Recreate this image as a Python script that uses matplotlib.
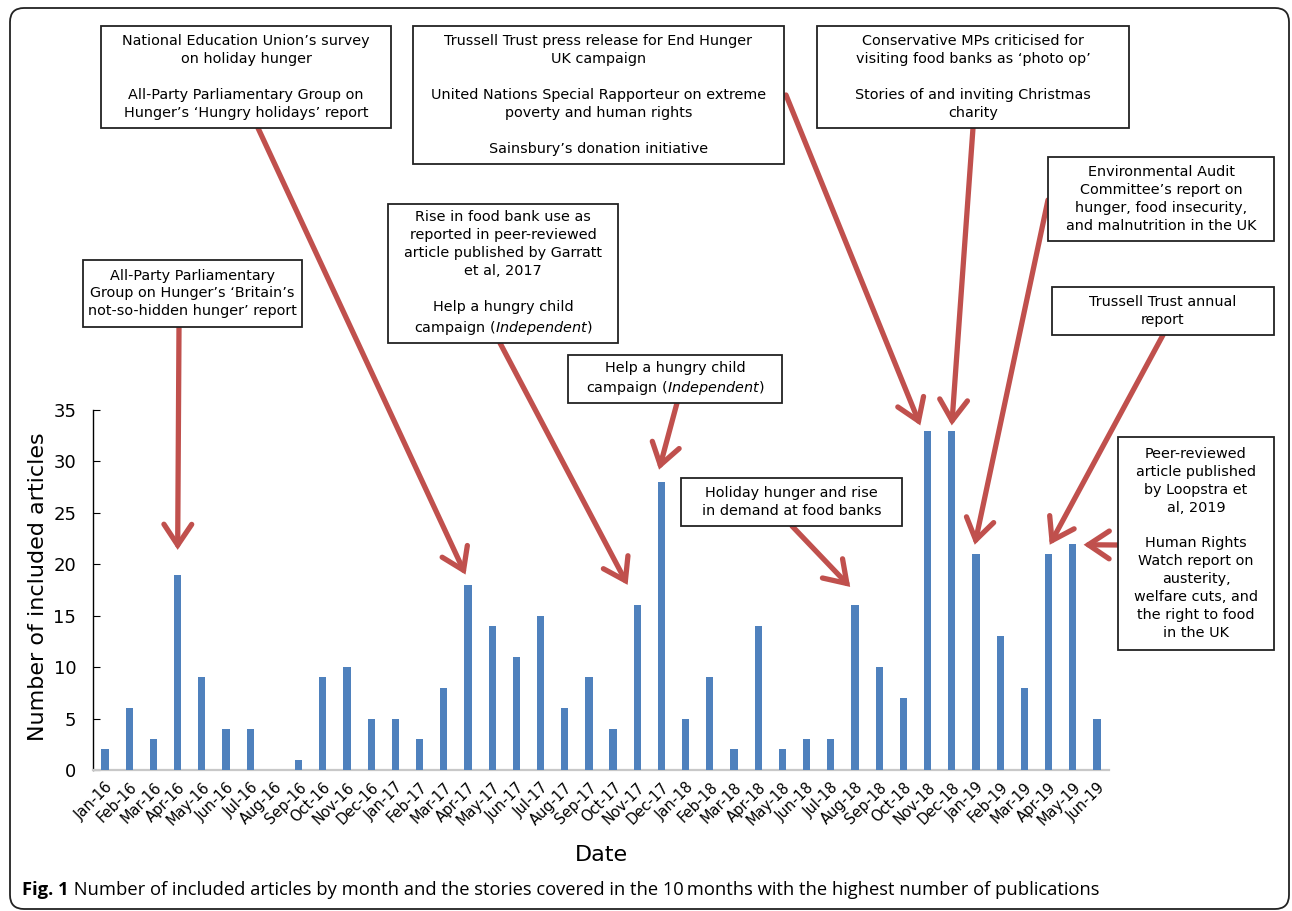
import matplotlib
matplotlib.use("Agg")
import matplotlib.pyplot as plt
from matplotlib.patches import Rectangle, FancyBboxPatch

months = ["Jan-16", "Feb-16", "Mar-16", "Apr-16", "May-16", "Jun-16", "Jul-16",
          "Aug-16", "Sep-16", "Oct-16", "Nov-16", "Dec-16",
          "Jan-17", "Feb-17", "Mar-17", "Apr-17", "May-17", "Jun-17", "Jul-17",
          "Aug-17", "Sep-17", "Oct-17", "Nov-17", "Dec-17",
          "Jan-18", "Feb-18", "Mar-18", "Apr-18", "May-18", "Jun-18", "Jul-18",
          "Aug-18", "Sep-18", "Oct-18", "Nov-18", "Dec-18",
          "Jan-19", "Feb-19", "Mar-19", "Apr-19", "May-19", "Jun-19"]
counts = [2, 6, 3, 19, 9, 4, 4, 0, 1, 9, 10, 5,
          5, 3, 8, 18, 14, 11, 15, 6, 9, 4, 16, 28,
          5, 9, 2, 14, 2, 3, 3, 16, 10, 7, 33, 33,
          21, 13, 8, 21, 22, 5]

# story boxes: text, month the arrow points at
stories = [
    "All-Party Parliamentary\nGroup on Hunger\u2019s \u2018Britain\u2019s\nnot-so-hidden hunger\u2019 report",
    "National Education Union\u2019s survey\non holiday hunger\n\nAll-Party Parliamentary Group on\nHunger\u2019s \u2018Hungry holidays\u2019 report",
    "Trussell Trust press release for End Hunger\nUK campaign\n\nUnited Nations Special Rapporteur on extreme\npoverty and human rights\n\nSainsbury\u2019s donation initiative",
    "Rise in food bank use as\nreported in peer-reviewed\narticle published by Garratt\net al, 2017\n\nHelp a hungry child\ncampaign ($\\it{Independent}$)",
    "Help a hungry child\ncampaign ($\\it{Independent}$)",
    "Conservative MPs criticised for\nvisiting food banks as \u2018photo op\u2019\n\nStories of and inviting Christmas\ncharity",
    "Environmental Audit\nCommittee\u2019s report on\nhunger, food insecurity,\nand malnutrition in the UK",
    "Trussell Trust annual\nreport",
    "Holiday hunger and rise\nin demand at food banks",
    "Peer-reviewed\narticle published\nby Loopstra et\nal, 2019\n\nHuman Rights\nWatch report on\nausterity,\nwelfare cuts, and\nthe right to food\nin the UK",
]
story_months = ["Apr-16", "Apr-17", "Nov-18", "Nov-17", "Dec-17",
                "Dec-18", "Jan-19", "Apr-19", "Aug-18", "May-19"]

# layout in pixels: box (x0, y0, x1, y1), arrow start (x, y), tip offset (dx, gap)
boxes = [(83, 260, 302, 327), (101, 26, 391, 128), (413, 26, 784, 164),
         (388, 204, 618, 343), (568, 355, 782, 403), (817, 26, 1129, 128),
         (1048, 157, 1274, 241), (1052, 287, 1274, 335), (681, 478, 902, 526),
         (1118, 437, 1274, 650)]
starts = [(179, 327), (258, 128), (786, 95), (500, 343), (677, 403),
          (973, 128), (1048, 200), (1163, 335), (792, 526), (1118, 545)]
tips = [(0.0, 2.4), (-0.1, 1.0), (-0.3, 0.5), (-0.4, 2.0), (-0.1, 1.2),
        (0.0, 0.5), (-0.05, 0.9), (0.05, 0.9), (-0.2, 1.8), (0.45, -0.1)]

W, H = 1292, 911
BLUE = "#4F81BD"
RED = "#C0504D"


def fx(px):
    return px / W


def fy(py):
    return 1 - py / H


fig = plt.figure(figsize=(W / 100, H / 100), dpi=100)
fig.patch.set_facecolor("white")
fig.add_artist(FancyBboxPatch((10, H - 909), 1279, 901,
                              boxstyle="round,pad=0,rounding_size=14",
                              transform=None, fill=False, ec="#222222", lw=1.3))

ax = fig.add_axes([fx(93), fy(770), fx(1109) - fx(93), fy(410) - fy(770)])
xs = list(range(len(months)))
ax.bar(xs, counts, width=0.3, color=BLUE, zorder=3)
ax.set_xlim(-0.5, len(months) - 0.5)
ax.set_ylim(0, 35)
ax.set_yticks(range(0, 36, 5))
ax.set_xticks(xs)
ax.set_xticklabels(months, rotation=45, ha="right", rotation_mode="anchor", fontsize=10.5)
ax.tick_params(axis="x", length=0, pad=7)
ax.tick_params(axis="y", direction="in", length=5, labelsize=13, pad=12)
for s in ["top", "right"]:
    ax.spines[s].set_visible(False)
ax.spines["bottom"].set_color("#c8c8c8")
ax.spines["bottom"].set_linewidth(1.6)
ax.spines["left"].set_linewidth(1.0)

fig.text(fx(38), fy(587), "Number of included articles", rotation=90,
         ha="center", va="center", fontsize=16)
fig.text(fx(601), fy(855), "Date", ha="center", va="center", fontsize=16)

for (x0, y0, x1, y1), txt in zip(boxes, stories):
    fig.add_artist(Rectangle((fx(x0), fy(y1)), fx(x1) - fx(x0), fy(y0) - fy(y1),
                             transform=fig.transFigure, fc="white", ec="#222222",
                             lw=1.3, zorder=2))
    fig.text(fx((x0 + x1) / 2), fy((y0 + y1) / 2), txt, ha="center", va="center",
             multialignment="center", fontsize=10.4, linespacing=1.36, zorder=3)

for m, (sx, sy), (dx, gap) in zip(story_months, starts, tips):
    i = months.index(m)
    ax.annotate("", xy=(i + dx, counts[i] + gap), xycoords="data",
                xytext=(fx(sx), fy(sy)), textcoords="figure fraction",
                annotation_clip=False,
                arrowprops=dict(arrowstyle="->,head_length=0.75,head_width=0.5",
                                color=RED, lw=3.8, mutation_scale=20,
                                shrinkA=0, shrinkB=0, joinstyle="miter"))

cap = fig.text(fx(22), fy(890), "Fig. 1", fontsize=13.2, fontweight="bold",
               family="Open Sans", va="center")
ax.annotate(" Number of included articles by month and the stories covered in the 10\u2009months "
            "with the highest number of publications",
            xy=(1, 0.5), xycoords=cap, va="center", fontsize=13.2,
            family=["Open Sans", "DejaVu Sans"], annotation_clip=False)

fig.savefig("out.png", dpi=100)
